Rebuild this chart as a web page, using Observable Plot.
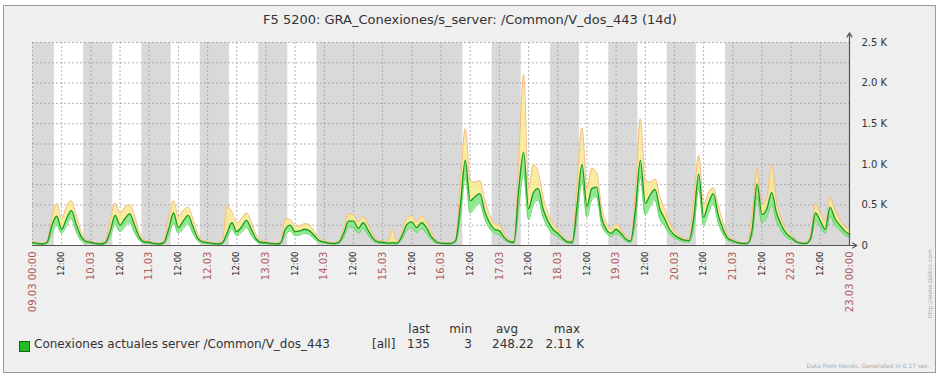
<!DOCTYPE html>
<html><head><meta charset="utf-8">
<script src="https://cdn.jsdelivr.net/npm/d3@7"></script>
<script src="https://cdn.jsdelivr.net/npm/@observablehq/plot@0.6"></script>
<style>
html,body{margin:0;padding:0;background:#fff;}
#wrap{position:relative;width:940px;height:378px;font-family:"DejaVu Sans",sans-serif;overflow:hidden;}
#frame{position:absolute;left:3px;top:5px;width:931px;height:366px;border:1px solid #9a9a9a;background:#efefef;}
#title{position:absolute;left:0;top:12px;width:940px;text-align:center;font-size:13px;color:#333;}
#chart{position:absolute;left:0;top:0;}
.t{position:absolute;font-size:12px;color:#333;white-space:nowrap;}
#sq{position:absolute;left:19px;top:341px;width:9px;height:9px;background:#22bb22;border:1px solid #116611;}
#foot{position:absolute;right:10px;top:362px;font-size:6px;color:#aaa;}
#url{position:absolute;left:926px;top:318px;font-size:6px;color:#aaa;transform:rotate(-90deg);transform-origin:0 0;white-space:nowrap;}
</style></head>
<body>
<div id="wrap">
  <div id="frame"></div>
  <div id="chart"></div>
  <div id="title"></div>
  <div id="sq"></div>
  <div id="legend"></div>
  <div id="foot">Data from trends. Generated in 0.17 sec.</div>
  <div id="url">http://www.zabbix.com</div>
</div>
<script>
const titleText = "F5 5200: GRA_Conexiones/s_server: /Common/V_dos_443 (14d)";
const seriesName = "Conexiones actuales server /Common/V_dos_443";
const statHeaders = ["last", "min", "avg", "max"];
const statValues = ["135", "3", "248.22", "2.11 K"];

// 2-hourly samples starting 09.03 00:00, ending 23.03 00:00
const avgVals = [
  35,25,20,40,250,360,200,330,430,260,110,50,
  40,25,20,35,180,370,250,330,390,250,100,45,
  40,25,20,35,200,400,220,300,370,230,90,45,
  35,25,20,30,150,280,170,230,310,200,80,40,
  35,25,20,30,200,250,170,180,200,180,120,60,
  45,30,25,40,150,300,300,210,280,190,90,45,
  40,30,35,30,120,260,290,220,280,220,110,50,
  30,25,25,60,500,1050,550,600,640,420,280,200,
  180,100,50,40,700,1150,450,650,700,450,300,200,
  150,90,45,40,500,1000,480,700,720,350,200,150,
  200,150,80,55,450,1050,520,620,690,450,330,200,
  130,90,65,60,350,880,350,520,640,380,200,90,
  60,35,25,25,200,760,380,450,650,400,250,150,
  100,50,30,25,90,400,300,200,470,330,250,180,
  135
];
const maxVals = [
  50,35,30,60,350,520,330,480,550,380,170,70,
  55,35,30,55,330,520,400,470,500,360,160,65,
  55,35,30,55,350,550,350,430,470,330,150,65,
  50,35,28,50,480,420,280,330,400,290,130,60,
  50,35,28,50,330,320,240,240,270,250,170,90,
  60,40,35,60,220,390,380,290,360,260,140,65,
  55,45,200,45,180,340,370,290,360,300,170,70,
  40,35,35,90,800,1440,800,780,800,560,380,270,
  250,150,70,60,1100,2110,700,1000,900,600,400,270,
  200,120,60,55,800,1450,700,950,900,480,280,200,
  270,200,110,75,700,1560,800,780,820,600,450,280,
  180,120,90,80,600,1110,500,650,710,500,280,130,
  80,50,35,35,400,950,500,600,1000,550,330,200,
  140,70,40,35,150,520,400,300,600,450,330,240,
  200
];
const minVals = [
  25,15,12,25,150,250,150,240,330,170,60,30,
  25,15,12,22,110,260,170,230,280,160,60,30,
  25,15,12,22,120,280,150,210,270,150,55,30,
  22,15,12,20,100,200,120,160,220,130,50,25,
  22,15,3,20,130,180,120,130,150,130,80,40,
  30,20,15,25,100,230,220,150,210,130,60,30,
  25,18,20,18,80,190,220,160,210,150,70,30,
  20,15,15,40,350,850,400,470,520,330,210,150,
  130,70,35,25,480,900,320,500,560,350,220,140,
  110,60,30,25,350,800,350,560,600,270,150,110,
  150,110,55,35,300,850,380,480,560,330,240,140,
  95,65,45,40,220,700,250,400,520,280,140,60,
  40,25,18,18,130,600,280,350,500,300,180,100,
  70,35,20,18,60,300,230,150,360,250,190,130,
  100
];
const workDays = ["2015-03-09","2015-03-10","2015-03-11","2015-03-12","2015-03-13",
                  "2015-03-16","2015-03-17","2015-03-18","2015-03-19","2015-03-20"];
const workStartHour = 9, workEndHour = 21;
const yTicks = [0, 500, 1000, 1500, 2000, 2500];

const start = new Date(Date.UTC(2015, 2, 9));
const end = new Date(Date.UTC(2015, 2, 23));
const H = 3600e3;
const data = avgVals.map((v, i) => ({t: new Date(+start + i * 2 * H), avg: v, min: minVals[i], max: maxVals[i]}));
const bands = workDays.map(d => {
  const base = new Date(d + "T00:00:00Z");
  return {s: new Date(+base + workStartHour * H), e: new Date(+base + workEndHour * H)};
});
const ticks12 = d3.utcHour.every(12).range(start, new Date(+end + 1));
const dayTicks = ticks12.filter(d => d.getUTCHours() === 0);
const noonTicks = ticks12.filter(d => d.getUTCHours() === 12);
const pad = n => String(n).padStart(2, "0");
const dayFmt = d => {
  const s = pad(d.getUTCDate()) + "." + pad(d.getUTCMonth() + 1);
  return (+d === +start || +d === +end) ? s + " 00:00" : s;
};
const curve = "monotone-x";

const chart = Plot.plot({
  width: 940, height: 325,
  marginLeft: 32, marginRight: 91, marginTop: 42, marginBottom: 80,
  style: {background: "transparent", fontFamily: "DejaVu Sans"},
  x: {type: "utc", domain: [start, end]},
  y: {domain: [0, 2500]},
  marks: [
    Plot.frame({fill: "#d9d9d9", stroke: null}),
    Plot.rect(bands, {x1: "s", x2: "e", fill: "#ffffff"}),
    Plot.ruleX(ticks12, {stroke: "#a0a0a0", strokeDasharray: "2,2", strokeWidth: 0.8}),
    Plot.ruleY(d3.range(250, 2501, 250), {stroke: "#a0a0a0", strokeDasharray: "2,2", strokeWidth: 0.8}),
    Plot.areaY(data, {x: "t", y1: "avg", y2: "max", fill: "#f7e98c", fillOpacity: 0.85, curve}),
    Plot.areaY(data, {x: "t", y1: "min", y2: "avg", fill: "#8fe88f", curve}),
    Plot.line(data, {x: "t", y: "max", stroke: "#f5b98e", strokeWidth: 1, curve}),
    Plot.line(data, {x: "t", y: "min", stroke: "#5fd65f", strokeWidth: 1, curve}),
    Plot.line(data, {x: "t", y: "avg", stroke: "#1c9a1c", strokeWidth: 1.3, curve}),
    Plot.arrow({length: 1}, {x1: [end], y1: [0], x2: [end], y2: [2620], stroke: "#555", strokeWidth: 1.2, headLength: 6}),
    Plot.arrow({length: 1}, {x1: [start], y1: [0], x2: [new Date(+end + 3 * H)], y2: [0], stroke: "#555", strokeWidth: 1.2, headLength: 6}),
    Plot.axisY({anchor: "right", ticks: yTicks, tickSize: 0, tickPadding: 12, fontSize: 10, fill: "#333", label: null,
      tickFormat: d => d === 0 ? "0" : (d / 1000).toFixed(1) + " K"}),
    Plot.axisX({ticks: dayTicks, tickFormat: dayFmt, tickRotate: -90, tickSize: 0, tickPadding: 6, fontSize: 10, fill: "#b05a5a", label: null}),
    Plot.axisX({ticks: noonTicks, tickFormat: () => "12:00", tickRotate: -90, tickSize: 0, tickPadding: 6, fontSize: 8.5, fill: "#222", label: null})
  ]
});
document.getElementById("chart").appendChild(chart);
document.getElementById("title").textContent = titleText;

const leg = document.getElementById("legend");
const place = (txt, left, top, align) => {
  const s = document.createElement("div");
  s.className = "t"; s.textContent = txt;
  s.style.top = top + "px";
  if (align === "right") { s.style.right = (940 - left) + "px"; } else { s.style.left = left + "px"; }
  leg.appendChild(s);
};
place(seriesName, 34, 337);
place("[all]", 372, 337);
const hdrRight = [430, 472, 518, 580];
const valRight = [430, 472, 534, 584];
statHeaders.forEach((h, i) => place(h, hdrRight[i], 322, "right"));
statValues.forEach((v, i) => place(v, valRight[i], 337, "right"));
</script>
</body></html>
